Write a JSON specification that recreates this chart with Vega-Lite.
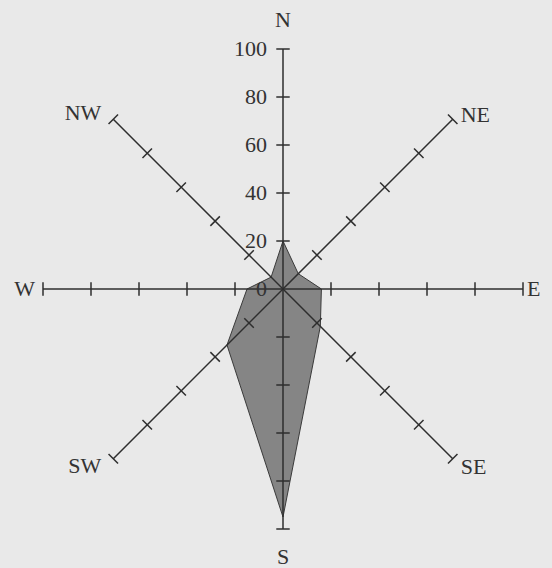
{
  "$schema": "https://vega.github.io/schema/vega-lite/v6.json",
  "width": 480,
  "height": 480,
  "autosize": {"type": "none"},
  "padding": {"left": 43, "top": 49, "right": 29, "bottom": 39},
  "background": "#e9e9e9",
  "config": {
    "view": {"stroke": null},
    "text": {"font": "Liberation Serif", "fontSize": 22, "fill": "#333333"}
  },
  "datasets": {
    "wind": [
      {"dir": "N", "order": 0, "value": 20},
      {"dir": "NE", "order": 1, "value": 9},
      {"dir": "E", "order": 2, "value": 16},
      {"dir": "SE", "order": 3, "value": 22},
      {"dir": "S", "order": 4, "value": 95},
      {"dir": "SW", "order": 5, "value": 33},
      {"dir": "W", "order": 6, "value": 15},
      {"dir": "NW", "order": 7, "value": 7}
    ],
    "axes": [
      {"dir": "N", "order": 0, "len": 100, "ticks": [20, 40, 60, 80, 100]},
      {"dir": "NE", "order": 1, "len": 100, "ticks": [20, 40, 60, 80, 100]},
      {"dir": "E", "order": 2, "len": 100, "ticks": [20, 40, 60, 80, 100]},
      {"dir": "SE", "order": 3, "len": 100, "ticks": [20, 40, 60, 80, 100]},
      {"dir": "S", "order": 4, "len": 100, "ticks": [20, 40, 60, 80, 100]},
      {"dir": "SW", "order": 5, "len": 100, "ticks": [20, 40, 60, 80, 100]},
      {"dir": "W", "order": 6, "len": 100, "ticks": [20, 40, 60, 80, 100]},
      {"dir": "NW", "order": 7, "len": 100, "ticks": [20, 40, 60, 80, 100]}
    ],
    "scalelabels": [
      {"r": 0}, {"r": 20}, {"r": 40}, {"r": 60}, {"r": 80}, {"r": 100}
    ]
  },
  "layer": [
    {
      "data": {"name": "wind"},
      "transform": [
        {"calculate": "datum.order * PI / 4", "as": "a"},
        {"calculate": "datum.value * sin(datum.a)", "as": "px"},
        {"calculate": "datum.value * cos(datum.a)", "as": "py"}
      ],
      "mark": {"type": "line", "interpolate": "linear-closed", "fill": "#858585", "fillOpacity": 1, "stroke": "#3a3a3a", "strokeWidth": 1},
      "encoding": {
        "x": {"field": "px", "type": "quantitative", "scale": {"domain": [-100, 100], "nice": false, "zero": false}, "axis": null},
        "y": {"field": "py", "type": "quantitative", "scale": {"domain": [-100, 100], "nice": false, "zero": false}, "axis": null},
        "order": {"field": "order", "type": "quantitative"}
      }
    },
    {
      "data": {"name": "axes"},
      "transform": [
        {"calculate": "datum.order * PI / 4", "as": "a"},
        {"calculate": "0", "as": "ox"},
        {"calculate": "datum.len * sin(datum.a)", "as": "ex"},
        {"calculate": "datum.len * cos(datum.a)", "as": "ey"}
      ],
      "mark": {"type": "rule", "stroke": "#2e2e2e", "strokeWidth": 1.5},
      "encoding": {
        "x": {"field": "ox", "type": "quantitative", "scale": {"domain": [-100, 100], "nice": false, "zero": false}, "axis": null},
        "y": {"field": "ox", "type": "quantitative", "scale": {"domain": [-100, 100], "nice": false, "zero": false}, "axis": null},
        "x2": {"field": "ex"},
        "y2": {"field": "ey"}
      }
    },
    {
      "data": {"name": "axes"},
      "transform": [
        {"flatten": ["ticks"], "as": ["t"]},
        {"calculate": "datum.order * PI / 4", "as": "a"},
        {"calculate": "datum.t * sin(datum.a) - 2.8 * cos(datum.a)", "as": "tx1"},
        {"calculate": "datum.t * cos(datum.a) + 2.8 * sin(datum.a)", "as": "ty1"},
        {"calculate": "datum.t * sin(datum.a) + 2.8 * cos(datum.a)", "as": "tx2"},
        {"calculate": "datum.t * cos(datum.a) - 2.8 * sin(datum.a)", "as": "ty2"}
      ],
      "mark": {"type": "rule", "stroke": "#2e2e2e", "strokeWidth": 1.5},
      "encoding": {
        "x": {"field": "tx1", "type": "quantitative", "scale": {"domain": [-100, 100], "nice": false, "zero": false}, "axis": null},
        "y": {"field": "ty1", "type": "quantitative", "scale": {"domain": [-100, 100], "nice": false, "zero": false}, "axis": null},
        "x2": {"field": "tx2"},
        "y2": {"field": "ty2"}
      }
    },
    {
      "data": {"name": "scalelabels"},
      "transform": [{"calculate": "0", "as": "ox"}],
      "mark": {"type": "text", "align": "right", "baseline": "middle", "dx": -16},
      "encoding": {
        "x": {"field": "ox", "type": "quantitative", "scale": {"domain": [-100, 100], "nice": false, "zero": false}, "axis": null},
        "y": {"field": "r", "type": "quantitative", "scale": {"domain": [-100, 100], "nice": false, "zero": false}, "axis": null},
        "text": {"field": "r", "type": "quantitative", "format": "d"}
      }
    },
    {
      "data": {"name": "axes"},
      "transform": [
        {"calculate": "datum.order * PI / 4", "as": "a"},
        {"calculate": "datum.len * sin(datum.a)", "as": "ex"},
        {"calculate": "datum.len * cos(datum.a)", "as": "ey"}
      ],
      "encoding": {
        "x": {"field": "ex", "type": "quantitative", "scale": {"domain": [-100, 100], "nice": false, "zero": false}, "axis": null},
        "y": {"field": "ey", "type": "quantitative", "scale": {"domain": [-100, 100], "nice": false, "zero": false}, "axis": null},
        "text": {"field": "dir", "type": "nominal"}
      },
      "layer": [
        {"transform": [{"filter": "datum.dir == 'N'"}], "mark": {"type": "text", "align": "center", "baseline": "middle", "dy": -29}},
        {"transform": [{"filter": "datum.dir == 'S'"}], "mark": {"type": "text", "align": "center", "baseline": "middle", "dy": 28}},
        {"transform": [{"filter": "datum.dir == 'W'"}], "mark": {"type": "text", "align": "right", "baseline": "middle", "dx": -8, "dy": 0}},
        {"transform": [{"filter": "datum.dir == 'E'"}], "mark": {"type": "text", "align": "left", "baseline": "middle", "dx": 4, "dy": 0}},
        {"transform": [{"filter": "datum.dir == 'NW'"}], "mark": {"type": "text", "align": "right", "baseline": "middle", "dx": -12, "dy": -6}},
        {"transform": [{"filter": "datum.dir == 'SW'"}], "mark": {"type": "text", "align": "right", "baseline": "middle", "dx": -12, "dy": 7}},
        {"transform": [{"filter": "datum.dir == 'NE'"}], "mark": {"type": "text", "align": "left", "baseline": "middle", "dx": 8, "dy": -4}},
        {"transform": [{"filter": "datum.dir == 'SE'"}], "mark": {"type": "text", "align": "left", "baseline": "middle", "dx": 8, "dy": 8}}
      ]
    }
  ]
}
